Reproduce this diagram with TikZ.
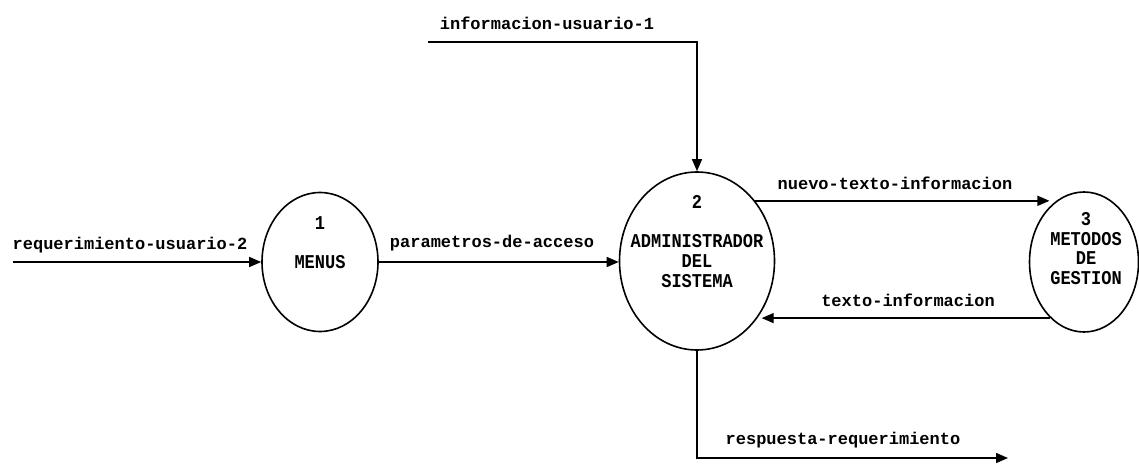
\documentclass[tikz,border=0pt]{standalone}
\usepackage{fontspec}
\setmonofont{Liberation Mono}
\usetikzlibrary{shapes.geometric,arrows.meta}
\tikzset{
  proc/.style={ellipse, draw, line width=1.6pt, inner sep=0pt},
  flow/.style={line width=1.4pt, -{Triangle[length=12pt,width=10pt]}},
  lbl/.style={font=\fontsize{17}{19}\selectfont\ttfamily\bfseries, inner sep=0pt},
  captxt/.style={font=\fontsize{17}{19}\selectfont\ttfamily\bfseries, inner sep=0pt, yscale=1.15}
}
\begin{document}
\begin{tikzpicture}[x=1pt,y=-1pt]
\useasboundingbox (0,0) rectangle (1139,465);

% processes
\node[proc, minimum width=116pt, minimum height=139pt] (p1) at (320,262) {};
\node[proc, minimum width=155pt, minimum height=178pt] (p2) at (697,261) {};
\node[proc, minimum width=109pt, minimum height=140pt] (p3) at (1084,262) {};

% process texts
\node[captxt] (p1n) at (320,223) {1};
\node[captxt] (p1t) at (320,262) {MENUS};
\node[captxt] (p2n) at (697,202) {2};
\node[captxt] (p2a) at (697,241) {ADMINISTRADOR};
\node[captxt] (p2b) at (697,261) {DEL};
\node[captxt] (p2c) at (697,281) {SISTEMA};
\node[captxt] (p3n) at (1086,219) {3};
\node[captxt] (p3a) at (1086,239) {METODOS};
\node[captxt] (p3b) at (1086,258) {DE};
\node[captxt] (p3c) at (1086,278) {GESTION};

% free ends of the external flows
\coordinate (in1) at (13,262);
\coordinate (top) at (428,42);
\coordinate (out) at (1008,458);

% flows
\draw[flow] (in1) -- (p1.west);
\draw[flow] (p1.east) -- (p1.east -| p2.west);
\draw[flow] (top) -| (p2.north);
\draw[flow] (p2.46) -- (p2.46 -| p3.122);
\draw[flow] (p3.-121) -- (p3.-121 -| p2.-38);
\draw[flow] (p2.south) |- (out);

% flow labels
\node[lbl] (l1) at (130,245) {requerimiento-usuario-2};
\node[lbl] (l2) at (492,243) {parametros-de-acceso};
\node[lbl] (l3) at (547,23) {informacion-usuario-1};
\node[lbl] (l4) at (895,183) {nuevo-texto-informacion};
\node[lbl] (l5) at (908,300) {texto-informacion};
\node[lbl] (l6) at (843,440) {respuesta-requerimiento};
\end{tikzpicture}
\end{document}
